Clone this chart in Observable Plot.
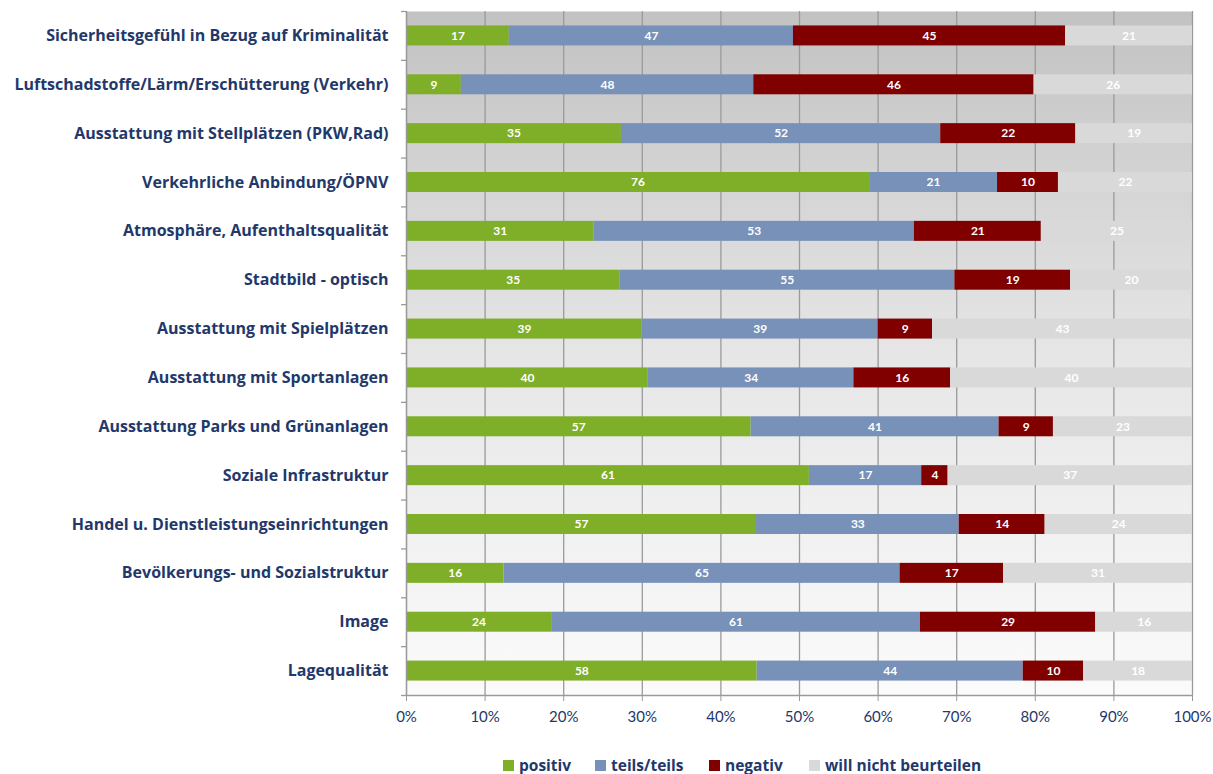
<!DOCTYPE html>
<html><head><meta charset="utf-8">
<script src="https://cdn.jsdelivr.net/npm/d3@7"></script>
<script src="https://cdn.jsdelivr.net/npm/@observablehq/plot@0.6"></script>
<style>
body{margin:0;background:#fff;font-family:"Open Sans",Lato,sans-serif;}
#wrap{position:relative;width:1213px;height:774px;}
#legend{position:absolute;left:0;top:754px;width:1213px;height:22px;font-weight:700;font-size:15.5px;color:#23386a;}
#legend .it{position:absolute;top:0;display:flex;align-items:center;white-space:nowrap;}
#legend span.sw{display:inline-block;width:11px;height:11px;margin-right:5px;}
</style></head>
<body><div id="wrap"><div id="chart"></div><div id="legend"></div></div>
<script>
const categories = [
  "Sicherheitsgefühl in Bezug auf Kriminalität",
  "Luftschadstoffe/Lärm/Erschütterung (Verkehr)",
  "Ausstattung mit Stellplätzen (PKW,Rad)",
  "Verkehrliche Anbindung/ÖPNV",
  "Atmosphäre, Aufenthaltsqualität",
  "Stadtbild - optisch",
  "Ausstattung mit Spielplätzen",
  "Ausstattung mit Sportanlagen",
  "Ausstattung Parks und Grünanlagen",
  "Soziale Infrastruktur",
  "Handel u. Dienstleistungseinrichtungen",
  "Bevölkerungs- und Sozialstruktur",
  "Image",
  "Lagequalität"
];
const series = ["positiv", "teils/teils", "negativ", "will nicht beurteilen"];
const positiv   = [17, 9, 35, 76, 31, 35, 39, 40, 57, 61, 57, 16, 24, 58];
const teilsTeils= [47, 48, 52, 21, 53, 55, 39, 34, 41, 17, 33, 65, 61, 44];
const negativ   = [45, 46, 22, 10, 21, 19, 9, 16, 9, 4, 14, 17, 29, 10];
const willNicht = [21, 26, 19, 22, 25, 20, 43, 40, 23, 37, 24, 31, 16, 18];
const xTicks = [0, 0.1, 0.2, 0.3, 0.4, 0.5, 0.6, 0.7, 0.8, 0.9, 1];
const colors = ["#7fae29", "#7891b8", "#800000", "#d9d9d9"];

const valueArrays = [positiv, teilsTeils, negativ, willNicht];
const data = [];
categories.forEach((c, i) => {
  series.forEach((s, j) => data.push({cat: c, series: s, value: valueArrays[j][i]}));
});

const W = 1213, H = 745;
const mTop = 11, mBottom = 50, mLeft = 406, mRight = 21;
const step = (H - mTop - mBottom) / categories.length;
const barH = 20;
const inset = (step - barH) / 2;
const navy = "#23386a";
const grid = "#9a9a9a";

const chart = Plot.plot({
  width: W, height: H,
  marginTop: mTop, marginBottom: mBottom, marginLeft: mLeft, marginRight: mRight,
  style: {fontFamily: "'Open Sans', Lato, sans-serif", background: "transparent"},
  x: {domain: [0, 1], ticks: xTicks, tickFormat: d => Math.round(d * 100) + "%", label: null},
  y: {domain: categories, padding: 0, round: false, label: null},
  color: {domain: series, range: colors},
  marks: [
    Plot.frame({fill: "url(#bggrad)", stroke: "none"}),
    Plot.ruleX(xTicks, {stroke: grid, strokeWidth: 1.3}),
    Plot.barX(data, Plot.stackX({x: "value", y: "cat", z: "series", fill: "series", offset: "normalize", insetTop: inset, insetBottom: inset})),
    Plot.text(data, Plot.stackX({x: "value", y: "cat", z: "series", offset: "normalize", text: d => String(d.value), fill: "white", fontSize: 12, fontWeight: 700, fontFamily: "Lato, sans-serif"})),
    Plot.ruleX([0], {stroke: grid, strokeWidth: 1.3}),
    Plot.ruleY(categories, {y: d => d, x1: 0, x2: 0, insetLeft: -5, dy: step / 2, stroke: grid, strokeWidth: 1.3}),
    Plot.ruleY([categories[0]], {y: d => d, x1: 0, x2: 0, insetLeft: -5, dy: -step / 2, stroke: grid, strokeWidth: 1.3}),
    Plot.ruleY([categories[categories.length - 1]], {y: d => d, x1: 0, x2: 1, dy: step / 2, stroke: grid, strokeWidth: 1.3}),
    Plot.axisX({ticks: xTicks, tickFormat: d => Math.round(d * 100) + "%", tickSize: 6, tickPadding: 10, stroke: grid, fill: navy, fontSize: 15, fontFamily: "Lato, sans-serif", label: null}),
    Plot.axisY({tickSize: 0, tickPadding: 18, fill: navy, fontSize: 16, fontWeight: 700, label: null})
  ]
});

const svgNS = "http://www.w3.org/2000/svg";
const defs = document.createElementNS(svgNS, "defs");
defs.innerHTML = `<linearGradient id="bggrad" x1="0" y1="0" x2="0" y2="1">
  <stop offset="0" stop-color="#c2c2c2"/>
  <stop offset="0.5" stop-color="#e6e6e6"/>
  <stop offset="1" stop-color="#fbfbfb"/></linearGradient>`;
chart.insertBefore(defs, chart.firstChild);
document.getElementById("chart").appendChild(chart);

const legendX = [503, 595, 709, 809];
const lg = document.getElementById("legend");
series.forEach((s, i) => {
  const it = document.createElement("div");
  it.className = "it";
  it.style.left = legendX[i] + "px";
  it.innerHTML = `<span class="sw" style="background:${colors[i]}"></span><span>${s}</span>`;
  lg.appendChild(it);
});
</script></body></html>
